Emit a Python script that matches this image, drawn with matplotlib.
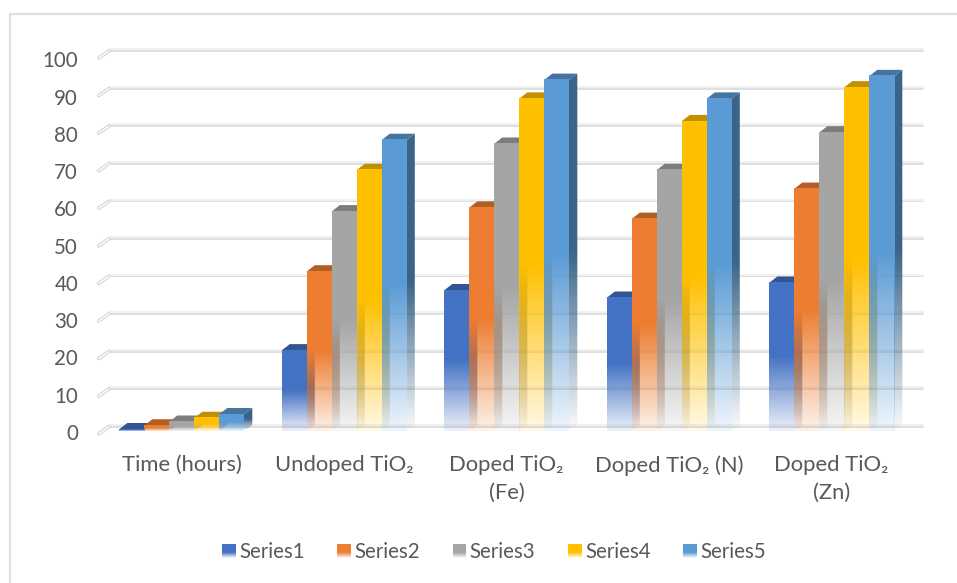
import numpy as np
import matplotlib
matplotlib.use("Agg")
import matplotlib.pyplot as plt
from matplotlib.colors import to_rgb
from matplotlib.legend_handler import HandlerBase
from matplotlib.lines import Line2D
from matplotlib.patches import Polygon, Rectangle
from matplotlib.transforms import ScaledTranslation

categories = ["Time (hours)", "Undoped TiO₂", "Doped TiO₂\n(Fe)", "Doped TiO₂ (N)", "Doped TiO₂\n(Zn)"]
series_names = ["Series1", "Series2", "Series3", "Series4", "Series5"]
series1 = [0, 21, 37, 35, 39]
series2 = [1, 42, 59, 56, 64]
series3 = [2, 58, 76, 69, 79]
series4 = [3, 69, 88, 82, 91]
series5 = [4, 77, 93, 88, 94]
all_series = [series1, series2, series3, series4, series5]
y_ticks = list(range(0, 101, 10))
front_colors = ["#4472C4", "#ED7D31", "#A5A5A5", "#FFC000", "#5B9BD5"]
top_colors = ["#335693", "#B25E25", "#7C7C7C", "#BF9000", "#44749F"]
side_colors = ["#2F5597", "#9E5320", "#6E6E6E", "#AA8000", "#3A6488"]

plt.rcParams["font.family"] = ["Lato", "Noto Sans", "DejaVu Sans"]
W, H = 957, 583
fig = plt.figure(figsize=(W / 100, H / 100), dpi=100, facecolor="white")

# plot area in pixels
px_left, px_right = 100.25, 912.75
px_zero, px_hundred = 429.5, 429.5 - 375.7
ax = fig.add_axes([px_left / W, 1 - px_zero / H, (px_right - px_left) / W, (px_zero - px_hundred) / H])
ax.set_xlim(-0.5, len(categories) - 0.5)
ax.set_ylim(0, 100)
ax.patch.set_alpha(0)
for s in ax.spines.values():
    s.set_visible(False)

ux = (px_right - px_left) / len(categories)   # px per category
uy = (px_zero - px_hundred) / 100             # px per value
depth_x, depth_y = 8.3 / ux, 6.5 / uy         # bar depth in data units
bar_w = 25 / ux
base = -0.5                                   # bars start just below the zero line

# chart frame: only the top and left edges show in the crop
fig.add_artist(Line2D([10 / W, 10 / W, 1], [0, 1 - 14 / H, 1 - 14 / H], transform=fig.transFigure,
                      color="#E0E0E0", lw=1.6))

# gridlines with side wall stubs
g_back = 2.8 / uy
g_front = -4.2 / uy
gx0 = -0.5 - 1.5 / ux
gx_back = gx0 + 10 / ux
gx_end = 4.5 + 10.5 / ux
for v in y_ticks:
    ax.plot([gx_back, gx_end], [v + g_back, v + g_back], color="#D6D6D6", lw=1.1, clip_on=False, zorder=1,
            solid_capstyle="round")
    ax.plot([gx_back, gx_end], [v + g_back + 0.45, v + g_back + 0.45], color="#F1F1F1", lw=1.4, clip_on=False, zorder=1)
    ax.plot([gx0, gx_back], [v + g_front, v + g_back], color="#D2D2D2", lw=2.6, clip_on=False, zorder=1,
            solid_capstyle="round")
    ax.plot([gx0, gx_back], [v + g_front, v + g_back], color="#FBFBFB", lw=1.2, clip_on=False, zorder=1,
            solid_capstyle="round")


def fade(color, slope):
    n = 128
    t = np.linspace(0, 1, n)  # 0 top, 1 bottom
    alpha = np.where(t < 0.5, 1.0, 1.0 - slope * (t - 0.5))
    img = np.zeros((n, 1, 4))
    img[..., :3] = to_rgb(color)
    img[..., 3] = alpha[:, None]
    return img


z = 3.0
for c in range(len(categories)):
    for i, vals in enumerate(all_series):
        v = vals[c]
        x0 = c - 2.5 * bar_w + i * bar_w
        x1 = x0 + bar_w
        # side face, clipped to its parallelogram
        side = Polygon([(x1, base), (x1 + depth_x, base + depth_y), (x1 + depth_x, v + depth_y), (x1, v)],
                       closed=True, transform=ax.transData, fc="none", ec="none")
        ax.add_patch(side)
        im = ax.imshow(fade(side_colors[i], 1.95), extent=(x1, x1 + depth_x, base, v + depth_y), aspect="auto",
                       interpolation="bilinear", zorder=z)
        im.set_clip_path(side)
        z += 0.01
        # top face
        ax.add_patch(Polygon([(x0, v), (x0 + depth_x, v + depth_y), (x1 + depth_x, v + depth_y), (x1, v)],
                             closed=True, fc=top_colors[i], ec="none", zorder=z, clip_on=False))
        z += 0.01
        # front face
        ax.imshow(fade(front_colors[i], 1.8), extent=(x0, x1, base, v), aspect="auto", interpolation="bilinear",
                  zorder=z, clip_on=False)
        z += 0.01
ax.set_xlim(-0.5, len(categories) - 0.5)
ax.set_ylim(0, 100)

# axes text
text_c = "#595959"
ax.set_xticks(range(len(categories)), categories)
ax.set_yticks(y_ticks)
ax.tick_params(axis="x", length=0, labelcolor=text_c, labelsize=15.8, pad=18.5)
ax.tick_params(axis="y", length=0, labelcolor=text_c, labelsize=14.8, pad=16)
for lab in ax.get_xticklabels():
    lab.set_linespacing(1.45)
for v, lab in zip(y_ticks, ax.get_yticklabels()):
    lab.set_transform(lab.get_transform() + ScaledTranslation(0, (-2.5 - 3 * v / 100) / 100, fig.dpi_scale_trans))


class FadeHandler(HandlerBase):
    def create_artists(self, legend, orig, xd, yd, width, height, fontsize, trans):
        col = orig.get_facecolor()
        n = 14
        arts = []
        side = min(width, height)
        x = xd * -1 + (width - side) / 2
        for k in range(n):
            t = k / (n - 1)
            a = 1 if t < 0.6 else 1 - (t - 0.6) / 0.4 * 0.9
            arts.append(Rectangle((x, -yd + height - side + side * (1 - (k + 1) / n)), side, side / n, fc=col[:3],
                                  alpha=a, ec="none", transform=trans))
        return arts


handles = [Rectangle((0, 0), 1, 1, fc=col) for col in front_colors]
leg = ax.legend(handles, series_names, ncol=5, loc="center", frameon=False, fontsize=14.8, labelcolor=text_c,
                handler_map={Rectangle: FadeHandler()}, handlelength=0.66, handleheight=0.66, handletextpad=0.16,
                columnspacing=1.6, bbox_to_anchor=(494 / W, 1 - 552.5 / H), bbox_transform=fig.transFigure)

fig.savefig("out.png", dpi=100)
